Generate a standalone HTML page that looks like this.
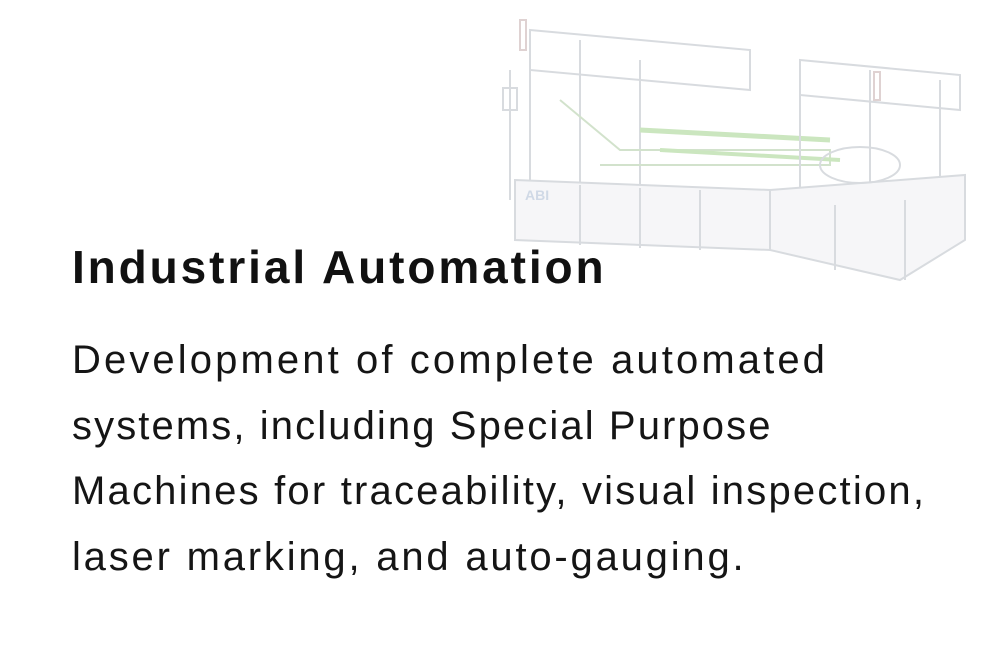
<!DOCTYPE html>
<html><head><meta charset="utf-8"><style>
html,body{margin:0;padding:0;background:#fff;width:1000px;height:667px;overflow:hidden;position:relative;font-family:"Liberation Sans",sans-serif;color:#111;}
svg{position:absolute;left:0;top:0;}
h1{position:absolute;left:72px;top:239px;margin:0;font-size:46px;font-weight:bold;letter-spacing:2.9px;line-height:56px;white-space:nowrap;}
p{position:absolute;left:72px;top:328px;margin:0;font-size:40px;line-height:65.5px;letter-spacing:3.1px;white-space:nowrap;color:#151515;}
</style></head><body>
<svg width="1000" height="667" viewBox="0 0 1000 667">
<g stroke="#cfd3d8" stroke-width="2" fill="none" opacity="0.8">
<path d="M530 30 L750 50 L750 90 L530 70 Z"/>
<path d="M510 70 L510 200 M530 30 L530 180 M640 60 L640 200 M580 40 L580 190"/>
<path d="M515 180 L770 190 L770 250 L515 240 Z" fill="#f4f5f7"/>
<path d="M580 185 L580 245 M640 188 L640 248 M700 190 L700 250"/>
<path d="M560 100 L620 150 L830 150 L830 165 L600 165" stroke="#c8dcc0"/>
<path d="M640 130 L830 140" stroke="#bfe0b0" stroke-width="5"/>
<path d="M660 150 L840 160" stroke="#bfe0b0" stroke-width="4"/>
<path d="M800 60 L960 75 L960 110 L800 95 Z"/>
<path d="M800 95 L800 190 M870 70 L870 190 M940 80 L940 200"/>
<path d="M770 190 L965 175 L965 240 L900 280 L770 250 Z" fill="#f4f5f7"/>
<path d="M835 205 L835 270 M905 200 L905 280"/>
<ellipse cx="860" cy="165" rx="40" ry="18"/>
<rect x="503" y="88" width="14" height="22"/>
<rect x="520" y="20" width="6" height="30" stroke="#d8c8c8"/>
<rect x="874" y="72" width="6" height="28" stroke="#d8c8c8"/>
<text x="525" y="200" font-family="Liberation Sans" font-size="14" font-weight="bold" fill="#c5d0e0" stroke="none">ABI</text>
</g>
</svg>
<h1>Industrial Automation</h1>
<p>Development of complete automated<br><span style="letter-spacing:2.1px">systems, including Special Purpose</span><br><span style="letter-spacing:2.2px">Machines for traceability, visual inspection,</span><br><span style="letter-spacing:2.8px">laser marking, and auto-gauging.</span></p>
</body></html>
